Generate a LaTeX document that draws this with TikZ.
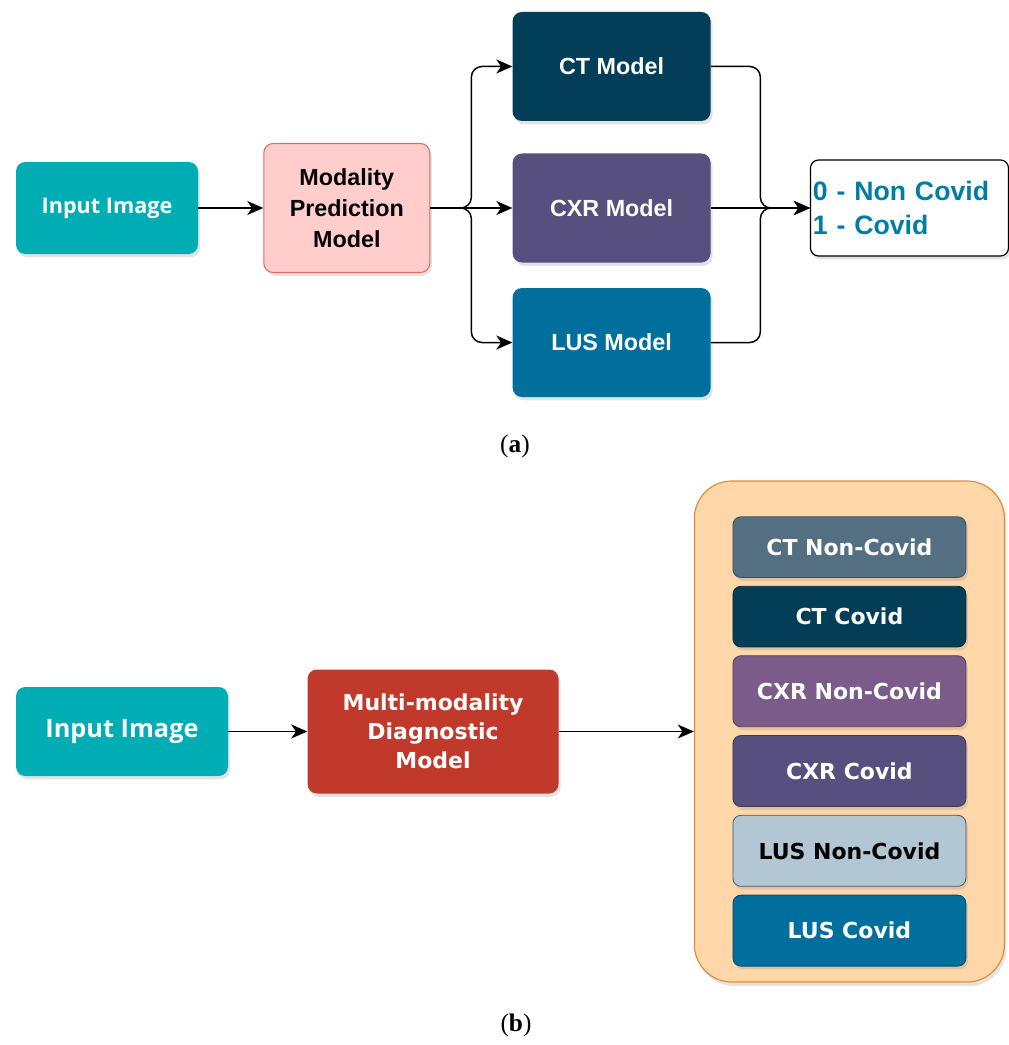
\documentclass[tikz,border=0pt]{standalone}
\usepackage{fontspec}
\setmainfont{Liberation Serif}
\setsansfont{Liberation Sans}
\newfontfamily\dvsans{DejaVu Sans}
\newfontfamily\opsans{Open Sans}
\usepackage{tikz}
\usetikzlibrary{arrows.meta, positioning, calc, shadows}
\definecolor{teal1}{RGB}{0,173,181}
\definecolor{pink1}{RGB}{255,206,204}
\definecolor{pinkline}{RGB}{226,104,100}
\definecolor{ctblue}{RGB}{2,62,88}
\definecolor{cxrpurple}{RGB}{87,79,126}
\definecolor{lusblue}{RGB}{0,111,157}
\definecolor{outtext}{RGB}{0,125,165}
\definecolor{red2}{RGB}{193,57,43}
\definecolor{peach}{RGB}{255,215,168}
\definecolor{peachline}{RGB}{226,140,60}
\definecolor{ctgray}{RGB}{84,111,130}
\definecolor{cxrlight}{RGB}{123,91,137}
\definecolor{luslight}{RGB}{178,199,211}

\begin{document}
\begin{tikzpicture}[
  x=0.75pt, y=-0.75pt,
  box/.style={rectangle, rounded corners=7pt, inner sep=2pt, align=center,
              text=white, font=\sffamily\bfseries\fontsize{17.5}{23.25}\selectfont,
              drop shadow={shadow xshift=1.5pt, shadow yshift=-2.5pt, opacity=0.22}},
  inimg/.style={box, fill=teal1, minimum width=136.5pt, minimum height=69pt,
                font=\opsans\bfseries\fontsize{16.2}{20}\selectfont},
  modal/.style={box, fill=pink1, draw=pinkline, line width=0.8pt, text=black,
                minimum width=124.5pt, minimum height=96.75pt},
  model/.style={box, minimum width=148.5pt, minimum height=81.75pt},
  result/.style={box, fill=white, draw=black, line width=0.9pt, rounded corners=6pt,
                 text=outtext, minimum width=148.5pt, minimum height=72pt,
                 text width=145pt, inner xsep=1.5pt, align=left,
                 font=\sffamily\bfseries\fontsize{20}{25.5}\selectfont},
  diag/.style={box, fill=red2, minimum width=188.25pt, minimum height=93pt,
               font=\dvsans\bfseries\fontsize{16.5}{21.75}\selectfont},
  group/.style={rectangle, rounded corners=28pt, fill=peach, draw=peachline,
                line width=0.9pt, minimum width=232.5pt, minimum height=375.75pt,
                drop shadow={shadow xshift=1.5pt, shadow yshift=-3pt, opacity=0.22}},
  cls/.style={box, rounded corners=6pt, minimum width=174.75pt, minimum height=53.25pt,
              line width=0.6pt, font=\dvsans\bfseries\fontsize{16.5}{20}\selectfont},
  arr/.style={-{Stealth[length=12pt, width=10.5pt, inset=3.5pt]}, line width=1.1pt},
  sublabel/.style={font=\fontsize{19}{22}\selectfont},
]
\useasboundingbox (0,0) rectangle (1009,1045);

% (a) modality prediction, then one model per modality
\node[inimg] (inA) at (107,208) {Input Image};
\node[modal, right=48.75pt of inA] (mpm) {Modality\\Prediction\\Model};
\node[model, fill=cxrpurple, right=61.5pt of mpm] (cxr) {CXR Model};
\node[model, fill=ctblue, above=24pt of cxr] (ct) {CT Model};
\node[model, fill=lusblue, below=18.75pt of cxr] (lus) {LUS Model};
\node[result, right=74.25pt of cxr] (out) {0 - Non Covid\\1 - Covid};

\coordinate (busL) at ($(mpm.east)!0.5!(cxr.west)$);
\coordinate (busR) at ($(cxr.east)!0.5!(out.west)$);

\draw[arr] (inA) -- (mpm);
\draw[arr, rounded corners=8pt] (mpm.east) -| (busL |- ct.west) -- (ct.west);
\draw[arr] (mpm.east) -- (cxr.west);
\draw[arr, rounded corners=8pt] (mpm.east) -| (busL |- lus.west) -- (lus.west);
\draw[arr, rounded corners=8pt] (ct.east) -| (busR |- out.west) -- (out.west);
\draw[arr] (cxr.east) -- (out.west);
\draw[arr, rounded corners=8pt] (lus.east) -| (busR |- out.west) -- (out.west);

\node[sublabel] (labA) at (515,446) {(\textbf{a})};

% (b) single multi-modality model
\node[inimg, minimum width=159pt, minimum height=66.75pt,
      font=\opsans\bfseries\fontsize{19}{23}\selectfont] (inB) at (122,731.5) {Input Image};
\node[diag, right=59.25pt of inB] (mdm) {Multi-modality\\Diagnostic\\Model};
\node[group, right=101.25pt of mdm] (grp) {};

\node[cls, fill=ctgray, draw=ctgray!70!black, minimum height=45.5pt,
      below=27pt of grp.north] (ctn) {CT Non-Covid};
\node[cls, fill=ctblue, draw=ctblue!70!black, minimum height=45.5pt,
      below=6pt of ctn] (ctc) {CT Covid};
\node[cls, fill=cxrlight, draw=cxrlight!70!black, below=6pt of ctc] (cxn) {CXR Non-Covid};
\node[cls, fill=cxrpurple, draw=cxrpurple!70!black, below=6pt of cxn] (cxc) {CXR Covid};
\node[cls, fill=luslight, draw=ctgray!80!black, text=black, below=6pt of cxc] (lun) {LUS Non-Covid};
\node[cls, fill=lusblue, draw=lusblue!70!black, below=6pt of lun] (luc) {LUS Covid};

\draw[arr] (inB) -- (mdm);
\draw[arr] (mdm) -- (grp);

\node[sublabel] (labB) at (516,1025) {(\textbf{b})};

\end{tikzpicture}
\end{document}
